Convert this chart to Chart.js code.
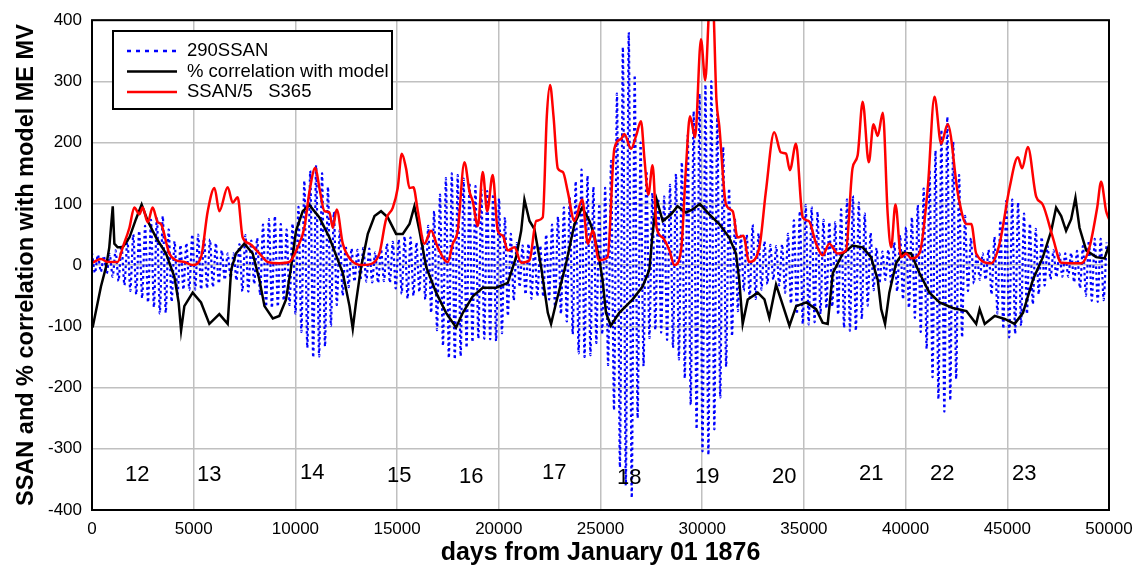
<!DOCTYPE html>
<html>
<head>
<meta charset="utf-8">
<title>SSAN and % correlation with model</title>
<script src="https://cdn.jsdelivr.net/npm/chart.js@4.4.0/dist/chart.umd.min.js"></script>
<style>
  html, body { margin: 0; padding: 0; background: #fff; }
  #wrap { width: 1143px; height: 571px; }
</style>
</head>
<body>
<div id="wrap"><canvas id="ssanChart" width="1143" height="571"></canvas></div>
<script>
// 290SSAN swings, one high and one low every 290 days (lows 145 days after each high)
const SSAN_STEP = 290;
const ssanHighs = [
  20, 17, 15, 18, 24, 33, 42, 50, 56, 64,
  74, 79, 80, 58, 39, 33, 36, 50, 50, 45,
  42, 36, 24, 19, 19, 34, 49, 40, 44, 66,
  75, 80, 67, 58, 68, 95, 138, 154, 163, 150,
  128, 87, 57, 32, 27, 25, 28, 27, 21, 26,
  35, 38, 42, 47, 45, 37, 47, 64, 88, 115,
  142, 150, 147, 141, 135, 129, 124, 121, 116, 109,
  78, 51, 36, 32, 35, 33, 32, 50, 66, 79,
  94, 110, 137, 156, 146, 128, 100, 126, 170, 280,
  356, 380, 310, 200, 154, 118, 109, 112, 131, 149,
  168, 212, 251, 280, 295, 300, 246, 193, 125, 74,
  48, 50, 66, 52, 39, 33, 31, 34, 51, 73,
  88, 98, 95, 87, 74, 70, 70, 91, 107, 113,
  102, 84, 53, 28, 22, 25, 37, 49, 62, 78,
  98, 125, 155, 187, 221, 242, 201, 147, 80, 44,
  19, 19, 25, 46, 73, 105, 107, 102, 84, 68,
  59, 46, 31, 24, 19, 19, 20, 23, 31, 40,
  43, 43, 37
];
const ssanLows = [
  -13, -11, -14, -19, -26, -33, -42, -48, -54, -61,
  -69, -79, -78, -60, -49, -40, -40, -40, -40, -38,
  -36, -30, -24, -21, -25, -43, -43, -31, -49, -68,
  -70, -68, -58, -65, -79, -109, -135, -151, -149, -133,
  -99, -65, -50, -36, -27, -25, -27, -28, -29, -26,
  -29, -38, -47, -55, -50, -44, -56, -78, -106, -132,
  -152, -154, -149, -135, -126, -120, -120, -121, -124, -111,
  -83, -58, -36, -48, -55, -51, -52, -56, -68, -80,
  -92, -113, -144, -150, -147, -127, -113, -163, -237, -330,
  -360, -380, -250, -165, -119, -106, -110, -122, -135, -154,
  -185, -228, -268, -304, -310, -268, -216, -166, -116, -75,
  -42, -54, -55, -40, -31, -24, -33, -45, -63, -80,
  -96, -97, -93, -80, -71, -68, -81, -102, -107, -107,
  -88, -66, -41, -30, -24, -31, -43, -56, -70, -86,
  -109, -137, -183, -219, -239, -221, -186, -118, -42, -30,
  -24, -24, -48, -79, -104, -118, -112, -99, -80, -64,
  -48, -33, -23, -20, -19, -19, -28, -38, -50, -58,
  -60, -57
];

// % correlation with model
const corrDays = [
  30, 280, 440, 690, 850, 1020, 1100, 1260, 1510, 1840,
  2160, 2440, 2740, 3150, 3640, 4050, 4260, 4380, 4540, 4950,
  5360, 5770, 6260, 6670, 6840, 7080, 7490, 7900, 8230, 8480,
  8890, 9210, 9540, 9790, 10030, 10360, 10690, 11180, 11670, 12330,
  12660, 12820, 12980, 13230, 13560, 13890, 14210, 14540, 14950, 15280,
  15610, 15850, 16100, 16430, 16920, 17410, 17900, 18230, 18720, 19210,
  19870, 20440, 20850, 21100, 21260, 21510, 21750, 22080, 22410, 22570,
  22820, 23310, 23720, 24100, 24460, 24700, 24950, 25100, 25270, 25510,
  25920, 26580, 27070, 27400, 27560, 27760, 28060, 28470, 28790, 29200,
  29530, 29890, 30350, 30840, 31330, 31660, 31820, 31990, 32240, 32730,
  33060, 33300, 33630, 33870, 34290, 34620, 35120, 35600, 35920, 36170,
  36420, 36910, 37400, 37890, 38300, 38630, 38800, 38990, 39200, 39530,
  39860, 40270, 40680, 41170, 41670, 42320, 42990, 43470, 43640, 43890,
  44380, 44870, 45360, 45770, 46260, 46750, 47160, 47400, 47650, 47890,
  48140, 48350, 48550, 48880, 49370, 49780, 50000
];
const corrValues = [
  -102, -61, -35, -3, 29, 96, 35, 29, 29, 45,
  75, 99, 72, 45, 19, -19, -61, -107, -67, -45,
  -61, -96, -80, -96, -8, 19, 35, 19, -24, -67,
  -87, -83, -56, -3, 56, 88, 98, 78, 45, -13,
  -67, -104, -61, -3, 51, 80, 88, 78, 51, 51,
  67, 96, 56, -3, -45, -78, -102, -78, -51, -37,
  -37, -29, 13, 56, 107, 72, 59, -3, -78, -96,
  -61, 3, 67, 94, 72, 48, 8, -24, -78, -99,
  -78, -56, -35, -8, 51, 107, 72, 83, 96, 86,
  91, 100, 83, 67, 45, 19, -24, -96, -56, -45,
  -56, -86, -32, -56, -99, -67, -61, -72, -94, -96,
  -13, 19, 32, 29, 13, -24, -72, -96, -45, 3,
  20, 19, -13, -45, -61, -70, -75, -96, -72, -96,
  -83, -88, -96, -78, -24, 13, 56, 94, 80, 56,
  75, 110, 61, 24, 13, 11, 32
];

// SSAN/5  S365
const s365Days = [
  30, 440, 770, 1260, 1510, 1840, 2080, 2330, 2490, 2740,
  2980, 3230, 3390, 3800, 4130, 4540, 4950, 5360, 5690, 6020,
  6260, 6670, 6920, 7160, 7410, 7740, 8230, 8640, 9210, 9700,
  10110, 10440, 10690, 10980, 11180, 11430, 11670, 11840, 12030, 12330,
  12740, 13310, 13800, 14130, 14460, 14790, 15030, 15230, 15440, 15610,
  15800, 16020, 16340, 16670, 17000, 17490, 17740, 17980, 18310, 18560,
  18720, 18970, 19210, 19430, 19700, 19950, 20200, 20440, 20770, 21100,
  21510, 21840, 22160, 22360, 22520, 22690, 22900, 23150, 23390, 23720,
  24100, 24380, 24620, 24920, 25350, 25680, 26010, 26170, 26500, 26750,
  26990, 27160, 27350, 27560, 27760, 28060, 28390, 28630, 28960, 29200,
  29400, 29650, 29940, 30150, 30380, 30520, 30700, 30840, 31170, 31500,
  31740, 32020, 32310, 32810, 33130, 33540, 33870, 34120, 34310, 34610,
  34940, 35240, 35600, 35920, 36250, 36660, 37070, 37390, 37640, 37890,
  38190, 38420, 38630, 38880, 39120, 39290, 39500, 39780, 40030, 40270,
  40680, 41090, 41420, 41750, 42070, 42580, 42990, 43230, 43470, 44210,
  44620, 45110, 45520, 45730, 46010, 46420, 46740, 47240, 47650, 48630,
  49040, 49420, 49610, 49860, 50000
];
const s365Values = [
  4, 10, 5, 5, 29, 61, 94, 83, 94, 70,
  94, 70, 67, 19, 8, 5, 0, 13, 88, 126,
  88, 127, 102, 111, 45, 35, 19, 5, 3, 5,
  29, 61, 120, 159, 126, 88, 86, 61, 91, 35,
  8, 0, 3, 19, 75, 94, 126, 182, 158, 126,
  127, 88, 35, 56, 29, 5, 35, 56, 168, 120,
  104, 64, 152, 88, 147, 56, 48, 24, 29, 4,
  8, 72, 78, 243, 294, 243, 158, 152, 120, 72,
  107, 35, 56, 8, 13, 190, 206, 214, 190, 211,
  235, 174, 115, 163, 61, 45, 24, 0, 24, 158,
  243, 209, 369, 302, 430, 430, 270, 227, 99, 88,
  45, 48, 5, 29, 120, 217, 184, 182, 155, 198,
  78, 72, 35, 16, 35, 19, 24, 158, 179, 267,
  168, 230, 211, 249, 83, 29, 99, 13, 19, 11,
  19, 126, 275, 198, 230, 115, 67, 67, 19, 3,
  35, 126, 176, 158, 193, 112, 99, 45, 4, 3,
  29, 94, 136, 88, 75
];

// solar cycle numbers along the bottom
const cycleNames = ["12", "13", "14", "15", "16", "17", "18", "19", "20", "21", "22", "23"];
const cycleDays = [2227, 5767, 10831, 15108, 18648, 22729, 26416, 30251, 34036, 38314, 41804, 45836];
const cycleLevels = [-343, -343, -339, -344, -346, -339, -348, -346, -346, -341, -341, -341];

const FONT = '"Liberation Sans", Arial, Helvetica, sans-serif';
Chart.defaults.font.family = FONT;
Chart.defaults.color = "#000";

// zigzag the 290SSAN between its highs and lows
const ssanPoints = [];
ssanHighs.forEach((v, i) => {
  ssanPoints.push({ x: i * SSAN_STEP, y: v });
  if (i < ssanLows.length) ssanPoints.push({ x: i * SSAN_STEP + SSAN_STEP / 2, y: ssanLows[i] });
});
const corrPoints = corrDays.map((d, i) => ({ x: d, y: corrValues[i] }));
const s365Points = s365Days.map((d, i) => ({ x: d, y: s365Values[i] }));

// frame, cycle numbers and the boxed legend
const overlayPlugin = {
  id: "overlay",
  afterDatasetsDraw(chart) {
    const ctx = chart.ctx;
    const area = chart.chartArea;
    const xs = chart.scales.x;
    const ys = chart.scales.y;
    ctx.save();

    ctx.fillStyle = "#000";
    ctx.font = "22px " + FONT;
    ctx.textAlign = "center";
    ctx.textBaseline = "middle";
    cycleNames.forEach((name, i) => {
      ctx.fillText(name, xs.getPixelForValue(cycleDays[i]), ys.getPixelForValue(cycleLevels[i]));
    });

    ctx.strokeStyle = "#000";
    ctx.lineWidth = 2;
    ctx.strokeRect(area.left, area.top, area.right - area.left, area.bottom - area.top);

    // legend box
    const bx = 113, by = 31, bw = 279, bh = 78;
    ctx.fillStyle = "#fff";
    ctx.fillRect(bx, by, bw, bh);
    ctx.strokeRect(bx, by, bw, bh);

    const rows = [
      { label: "290SSAN", color: "#0000ff", dash: [4, 5] },
      { label: "% correlation with model", color: "#000000", dash: [] },
      { label: "SSAN/5   S365", color: "#ff0000", dash: [] }
    ];
    ctx.textAlign = "left";
    ctx.font = "18.5px " + FONT;
    rows.forEach((r, i) => {
      const y = 51 + i * 20.5;
      ctx.beginPath();
      ctx.setLineDash(r.dash);
      ctx.strokeStyle = r.color;
      ctx.lineWidth = 2.5;
      ctx.moveTo(127, y);
      ctx.lineTo(177, y);
      ctx.stroke();
      ctx.setLineDash([]);
      ctx.fillStyle = "#000";
      ctx.fillText(r.label, 187, y);
    });
    ctx.restore();
  }
};

const ctx = document.getElementById("ssanChart").getContext("2d");
new Chart(ctx, {
  type: "line",
  data: {
    datasets: [
      {
        label: "290SSAN",
        data: ssanPoints,
        borderColor: "#0000ff",
        borderWidth: 2.2,
        borderDash: [2.6, 3.1],
        pointRadius: 0,
        tension: 0.25,
        order: 3
      },
      {
        label: "% correlation with model",
        data: corrPoints,
        borderColor: "#000000",
        borderWidth: 2.5,
        pointRadius: 0,
        tension: 0,
        order: 2
      },
      {
        label: "SSAN/5   S365",
        data: s365Points,
        borderColor: "#ff0000",
        borderWidth: 2.5,
        pointRadius: 0,
        cubicInterpolationMode: "monotone",
        order: 1
      }
    ]
  },
  options: {
    responsive: false,
    animation: false,
    devicePixelRatio: 1,
    layout: { padding: { top: 12, right: 34, left: 0, bottom: 0 } },
    plugins: {
      legend: { display: false },
      tooltip: { enabled: false }
    },
    scales: {
      x: {
        type: "linear",
        min: 0,
        max: 50000,
        afterFit: (scale) => { scale.height = 61; },
        ticks: {
          stepSize: 5000,
          maxRotation: 0,
          autoSkip: false,
          padding: 9,
          font: { size: 17 },
          callback: (value) => String(value)
        },
        grid: { color: "#c0c0c0", lineWidth: 1.5, drawTicks: false },
        border: { display: false },
        title: {
          display: true,
          text: "days from January 01 1876",
          font: { size: 25, weight: "bold" },
          padding: { top: 0, bottom: 3 }
        }
      },
      y: {
        min: -400,
        max: 400,
        afterFit: (scale) => { scale.width = 92; },
        ticks: { stepSize: 100, padding: 10, font: { size: 17 } },
        grid: { color: "#c0c0c0", lineWidth: 1.5, drawTicks: false },
        border: { display: false },
        title: {
          display: true,
          text: "SSAN and % correlation with model ME MV",
          font: { size: 23.5, weight: "bold" },
          padding: { top: 12, bottom: 0 }
        }
      }
    }
  },
  plugins: [overlayPlugin]
});
</script>
</body>
</html>
